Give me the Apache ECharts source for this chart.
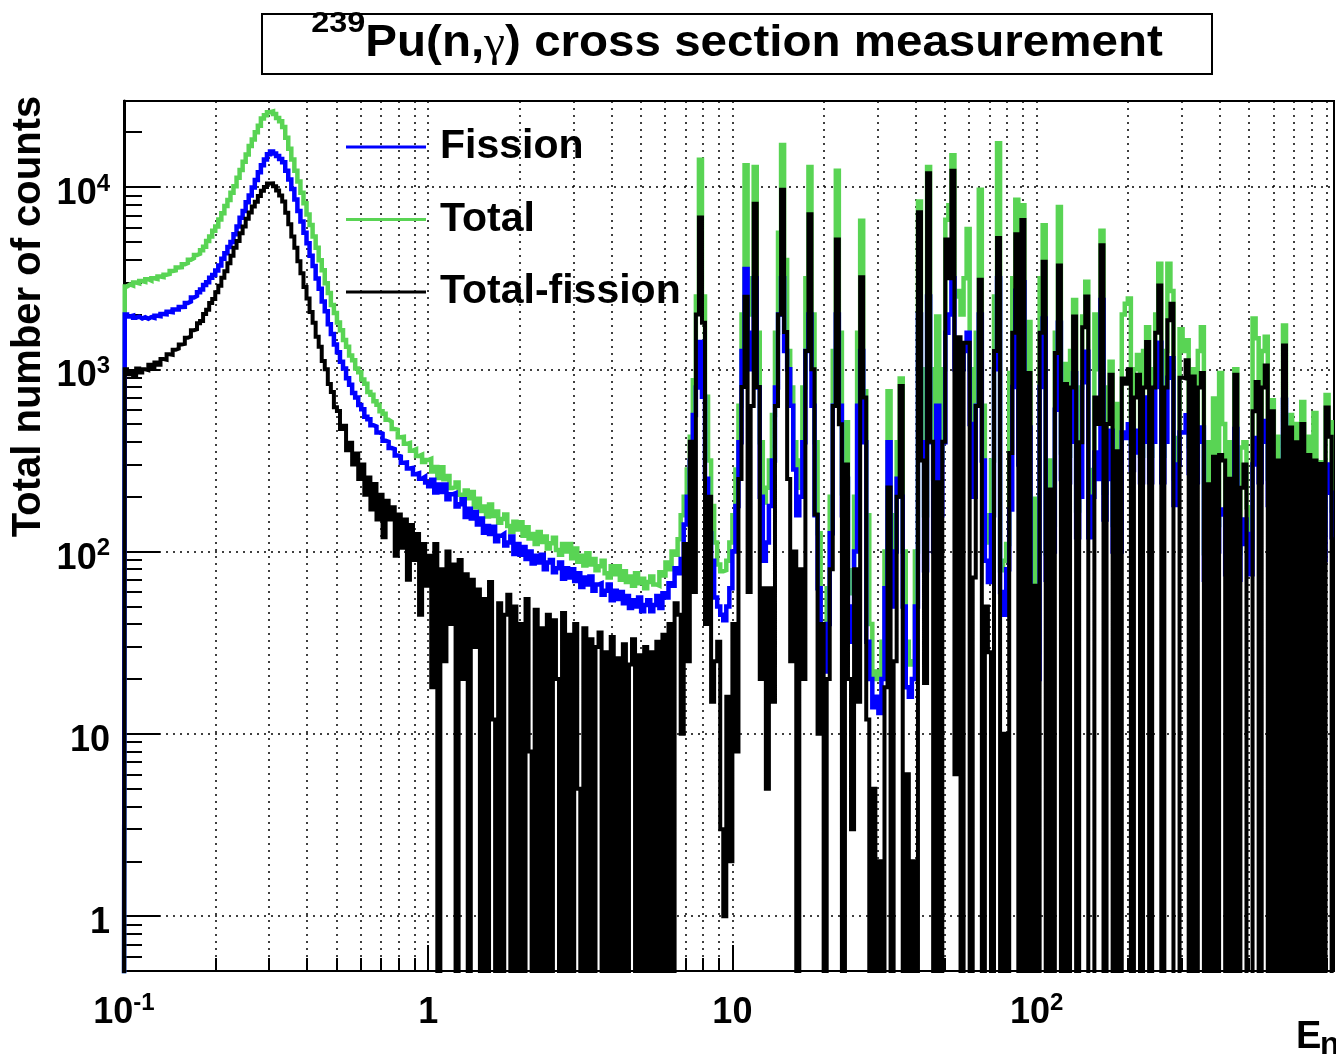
<!DOCTYPE html>
<html>
<head>
<meta charset="utf-8">
<script src="https://cdn.jsdelivr.net/npm/echarts@6/dist/echarts.min.js"></script>
<style>
html,body{margin:0;padding:0;background:#fff;}
#chart{width:1336px;height:1062px;}
</style>
</head>
<body>
<div id="chart"></div>
<script>
// ---- histogram binning (logarithmic, as in the original TH1) ----
const histLowEdge = 0.1;      // eV, lower edge of first bin
const binsPerDecade = 100;

// ---- series values (counts per bin) ----
const totalCounts = [
2850,2920,2880,2990,2960,3050,3020,3120,3070,3160,
3130,3230,3210,3300,3330,3460,3490,3620,3630,3770,
3830,3990,4070,4240,4310,4500,4710,5050,5350,5760,
6080,6640,7180,7870,8490,9300,10100,11250,12400,13780,
15100,16800,18250,20000,21700,23750,24800,25750,26000,25150,
23950,22950,21350,18650,16200,14150,12280,10740,9310,8150,
7060,6190,5350,4650,3960,3490,2970,2620,2250,2035,
1805,1640,1450,1330,1190,1120,1010,965,880,832,
750,726,668,640,588,571,528,516,470,466,
424,426,390,394,358,364,334,340,310,318,
323,275,291,253,290,249,260,223,226,239,
205,190,216,196,212,175,195,167,177,156,
181,157,166,144,151,160,138,128,146,132,
145,122,136,118,125,110,128,113,121,104,
111,119,102,96,110,100,110,92,104,88,
95,84,98,85,91,79,83,89,76,72,
83,75,83,70,78,68,73,65,76,67,
71,63,68,73,66,65,77,74,87,80,
100,96,117,158,200,282,427,871,2510,14130,
2510,708,316,178,112,85,78,79,89,112,
158,282,631,2000,13180,2000,3160,12880,1585,398,
186,224,316,562,1585,5620,17000,3980,1260,794,
398,224,316,794,3160,12880,2000,398,126,40,
35,63,200,1260,12300,1585,209,513,79,59,
200,1585,6530,759,158,40,20,22,20,32,
100,759,79,158,398,891,100,32,24,25,
100,8320,1000,158,12880,1000,251,1950,316,1000,
6610,7940,14960,2510,2690,2000,3160,5890,1000,398,
1585,9660,631,158,112,316,2510,17380,79,89,
110,955,3160,8510,420,7940,350,1820,28,195,
28,3160,6170,98,316,140,1585,7760,350,1070,
336,1260,2400,168,794,1950,3020,168,280,2000,
1000,5750,210,794,1100,140,646,140,2000,2290,
2450,392,1000,1200,336,1260,1700,336,1000,2000,
3800,336,1260,3800,2690,252,420,1660,1260,1445,
378,1000,336,1260,1700,98,398,98,692,140,
955,501,105,398,105,1000,98,372,398,175,
105,1900,1480,336,1260,1510,252,676,133,427,
133,1740,196,562,168,501,168,661,140,427,
133,575,126,309,126,724,513,168
];

const fissionCounts = [
2000,1950,1970,1920,1945,1900,1930,1895,1935,1915,
1965,1955,2010,2005,2070,2060,2130,2130,2195,2200,
2310,2355,2475,2525,2650,2740,2900,3005,3180,3295,
3485,3715,4045,4330,4695,4995,5515,6075,6780,7395,
8240,8995,9950,10940,12050,13160,14150,15110,15690,15290,
14810,14270,13670,12280,10990,9750,8530,7395,6475,5605,
4915,4200,3690,3145,2770,2355,2080,1765,1560,1370,
1240,1100,1010,894,822,742,700,638,604,549,
532,494,486,450,444,406,400,370,365,337,
333,307,308,286,288,266,269,251,257,239,
228,248,211,233,212,233,194,206,209,177,
182,194,155,172,152,165,141,152,127,138,
125,137,114,122,125,108,112,121,97,110,
96,106,91,100,86,95,87,96,80,87,
90,77,81,87,71,81,72,80,69,76,
64,72,66,73,61,66,67,58,61,66,
54,61,55,60,52,57,49,54,50,56,
47,51,54,47,51,57,49,59,56,67,
65,81,76,91,141,200,316,562,794,1410,
708,251,126,89,56,50,45,42,50,63,
100,178,398,1260,3550,1000,1585,3160,794,200,
89,112,178,316,794,2000,3160,1260,1000,631,
282,158,200,398,1260,2000,631,158,63,25,
22,40,126,631,2000,631,158,251,50,32,
100,631,1260,398,32,20,14,16,13,20,
63,398,50,100,251,200,50,18,16,20,
50,2000,398,79,2510,398,100,631,158,398,
1585,2000,3160,1000,1000,1000,1260,1585,501,200,
631,2000,316,89,68,158,1000,3160,60,45,
80,170,800,2700,300,3000,250,480,20,32,
20,800,1900,70,110,100,600,1800,250,400,
240,400,950,120,200,850,1250,120,200,350,
250,2400,150,250,460,100,180,100,450,420,
500,280,350,460,240,400,700,240,400,800,
1400,240,400,900,1150,180,300,450,450,560,
270,450,240,400,480,70,120,70,160,100,
170,160,75,125,75,470,70,110,150,125,
75,300,420,240,400,520,180,300,95,160,
95,680,140,240,120,200,120,250,100,170,
95,160,90,150,90,300,210,120
];

const totalMinusFissionCounts = [
1000,940,980,930,1010,960,1000,990,1060,1010,
1090,1060,1140,1130,1210,1200,1280,1300,1370,1380,
1490,1510,1640,1660,1790,1840,2010,2120,2310,2430,
2650,2870,3180,3450,3820,4200,4640,5050,5580,6080,
6700,7260,7820,8300,8930,9530,10020,10450,10480,10100,
9560,9000,8330,7230,6250,5350,4640,3920,3370,2830,
2450,2060,1800,1510,1330,1110,1000,830,750,620,
590,470,490,360,395,300,345,250,300,205,
255,170,235,150,205,120,190,150,175,95,
160,105,150,70,140,90,125,45,110,65,
95,18,110,0,80,25,100,40,85,0,
90,20,75,0,70,30,62,0,55,0,
68,12,0,52,0,45,58,0,50,0,
40,0,55,8,0,48,0,38,0,45,
0,42,20,0,46,0,35,0,40,5,
0,38,0,33,0,30,36,0,28,0,
34,0,26,0,31,0,24,33,0,27,
0,30,0,28,0,32,0,35,0,40,
0,52,45,10,110,25,400,60,2000,6800,
1800,40,200,15,25,32,3,1,16,2,
40,8,250,800,2500,60,630,8100,800,20,
63,5,63,15,630,2000,9660,1600,250,25,
100,0,80,20,1260,7080,1000,160,10,40,
0,20,80,630,5160,500,0,300,20,3,
80,15,3200,700,12,0,5,0,2,0,
18,225,0,25,200,810,0,6,0,2,
0,7270,316,19,11900,400,0,240,0,400,
5160,3160,12300,6,1500,0,1400,1400,0,72,
630,3100,0,50,28,0,1260,5250,0,10,
0,347,1585,5500,0,6600,0,955,0,65,
0,1585,3890,0,219,0,1230,3715,0,830,
0,794,1950,0,398,1700,2510,0,0,700,
501,4790,0,501,933,0,355,0,890,832,
1000,0,700,933,0,794,1410,0,794,1585,
2880,0,794,1860,2290,0,0,900,891,1120,
0,912,0,794,955,0,234,0,331,0,
339,316,0,251,0,933,0,224,300,0,
0,589,851,0,794,1050,0,589,0,316,
0,1350,0,479,0,398,0,501,0,339,
0,316,0,302,0,617,427,0
];

// ---- axis ticks / labels ----
const xTickValues = [0.1, 1, 10, 100];
const xTickLabels = ['{b|10}{s|-1}', '{b|1}', '{b|10}', '{b|10}{s|2}'];
const yTickValues = [1, 10, 100, 1000, 10000];
const yTickLabels = ['{b|1}', '{b|10}', '{b|10}{s|2}', '{b|10}{s|3}', '{b|10}{s|4}'];
const legendNames = ['Fission', 'Total', 'Total-fission'];

// ---- styles ----
const FONT = '"Liberation Sans", Arial, Helvetica, sans-serif';
const GREEN = '#59d454', BLUE = '#0000ff', BLACK = '#000000';
const ZERO_DRAW = 0.2;   // empty bins are drawn below the axis minimum (as ROOT does)

function binCenter(i) { return histLowEdge * Math.pow(10, (i + 0.5) / binsPerDecade); }
function toSeries(counts) {
  const d = [[histLowEdge, ZERO_DRAW]];
  counts.forEach(function (c, i) { d.push([binCenter(i), c > 0 ? c : ZERO_DRAW]); });
  return d;
}
function tickFormatter(values, labels) {
  return function (v) {
    for (let k = 0; k < values.length; k++) {
      if (Math.abs(Math.log10(v) - Math.log10(values[k])) < 1e-6) return labels[k];
    }
    return '';
  };
}
const labelRich = {
  b: { fontFamily: FONT, fontWeight: 'bold', fontSize: 36, lineHeight: 40, color: '#000', verticalAlign: 'bottom' },
  s: { fontFamily: FONT, fontWeight: 'bold', fontSize: 24, lineHeight: 24, color: '#000', verticalAlign: 'top' }
};
const dotted = { color: '#000', width: 1.5, type: [2, 5] };

function lineSeries(name, counts, color, z, width) {
  return {
    name: name, type: 'line', step: 'middle', data: toSeries(counts),
    symbol: 'none', showSymbol: false, clip: true, silent: true, z: z,
    lineStyle: { color: color, width: width, cap: 'butt', join: 'miter' },
    itemStyle: { color: color },
    emphasis: { disabled: true }, animation: false
  };
}

const chart = echarts.init(document.getElementById('chart'), null, { renderer: 'canvas' });
chart.setOption({
  animation: false,
  backgroundColor: '#fff',
  grid: { left: 124, top: 101, width: 1210, height: 870, show: true, borderColor: '#000', borderWidth: 2,
          backgroundColor: 'rgba(0,0,0,0)', containLabel: false, outerBoundsMode: 'none' },
  xAxis: {
    type: 'log', logBase: 10, min: 0.1, max: 950,
    axisLine: { show: true, lineStyle: { color: '#000', width: 2 } },
    axisTick: { show: true, inside: true, length: 26, lineStyle: { color: '#000', width: 2 } },
    minorTick: { show: true, splitNumber: 9, length: 13, lineStyle: { color: '#000', width: 2 } },
    splitLine: { show: true, lineStyle: dotted },
    minorSplitLine: { show: true, lineStyle: dotted },
    axisLabel: { margin: 20, formatter: tickFormatter(xTickValues, xTickLabels), rich: labelRich,
                 fontFamily: FONT, fontWeight: 'bold', fontSize: 36, color: '#000', hideOverlap: false }
  },
  yAxis: {
    type: 'log', logBase: 10, min: 0.5, max: 29650,
    axisLine: { show: true, lineStyle: { color: '#000', width: 3 } },
    axisTick: { show: true, inside: true, length: 36, lineStyle: { color: '#000', width: 2 } },
    minorTick: { show: true, splitNumber: 9, length: 18, lineStyle: { color: '#000', width: 2 } },
    splitLine: { show: true, lineStyle: dotted },
    minorSplitLine: { show: false },
    axisLabel: { margin: 14, padding: [10, 0, 0, 0], formatter: tickFormatter(yTickValues, yTickLabels), rich: labelRich,
                 fontFamily: FONT, fontWeight: 'bold', fontSize: 36, color: '#000', hideOverlap: false }
  },
  legend: {
    data: legendNames, orient: 'vertical', left: 346, top: 125, padding: 0,
    itemWidth: 80, itemHeight: 3, itemGap: 28.5, icon: 'rect', selectedMode: false,
    textStyle: { fontFamily: FONT, fontWeight: 'bold', fontSize: 41, lineHeight: 44, color: '#000', padding: [0, 0, 0, 9] }
  },
  series: [
    lineSeries('Total', totalCounts, GREEN, 2, 4.5),
    lineSeries('Fission', fissionCounts, BLUE, 3, 4.5),
    lineSeries('Total-fission', totalMinusFissionCounts, BLACK, 4, 4)
  ],
  graphic: [
    { type: 'rect', z: 10, shape: { x: 262, y: 14, width: 950, height: 60 },
      style: { fill: '#fff', stroke: '#000', lineWidth: 2 } },
    { type: 'text', z: 11, x: 737, y: 44, scaleX: 1.08,
      style: {
        text: '{sup|239}{m|Pu(n,}{g|\u03b3}{m|) cross section measurement}',
        align: 'center', verticalAlign: 'middle',
        rich: {
          sup: { fontFamily: FONT, fontWeight: 'bold', fontSize: 30, lineHeight: 30, verticalAlign: 'top', fill: '#000' },
          m: { fontFamily: FONT, fontWeight: 'bold', fontSize: 44, lineHeight: 70, fill: '#000' },
          g: { fontFamily: '"Liberation Serif", "DejaVu Serif", serif', fontSize: 44, lineHeight: 70, fill: '#000' }
        }
      } },
    { type: 'text', z: 11, x: 28.5, y: 316.5, rotation: Math.PI / 2,
      style: { text: 'Total number of counts', fontFamily: FONT, fontWeight: 'bold', fontSize: 40,
               fill: '#000', align: 'center', verticalAlign: 'middle' } },
    { type: 'text', z: 11, x: 1296, y: 1037.5,
      style: { text: 'E', fontFamily: FONT, fontWeight: 'bold', fontSize: 38, fill: '#000', align: 'left', verticalAlign: 'middle' } },
    { type: 'text', z: 11, x: 1320, y: 1045,
      style: { text: 'n', fontFamily: FONT, fontWeight: 'bold', fontSize: 32, fill: '#000', align: 'left', verticalAlign: 'middle' } }
  ]
});
</script>
</body>
</html>
